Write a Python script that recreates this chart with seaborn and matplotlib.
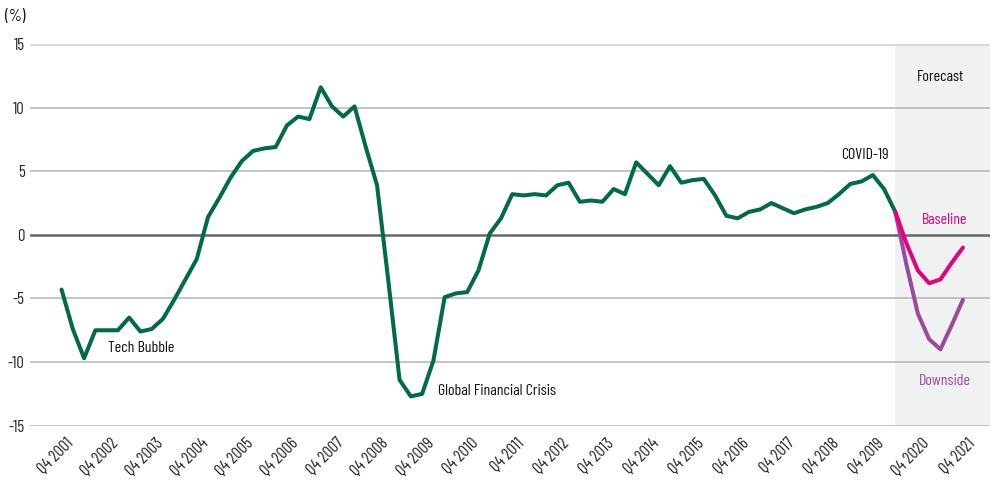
import numpy as np
import pandas as pd
import matplotlib
matplotlib.use("Agg")
import matplotlib.pyplot as plt
import matplotlib.transforms as mtrans
from matplotlib import font_manager
import seaborn as sns

# ---- data ----
history = [-4.3, -7.4, -9.7, -7.5, -7.5, -7.5, -6.5, -7.6, -7.4, -6.6,
           -5.1, -3.5, -1.9, 1.4, 2.9, 4.5, 5.8, 6.6, 6.8, 6.9,
           8.6, 9.3, 9.1, 11.6, 10.1, 9.3, 10.1, 6.9, 3.9, -3.6,
           -11.4, -12.7, -12.5, -9.9, -4.9, -4.6, -4.5, -2.8, 0.1, 1.3,
           3.2, 3.1, 3.2, 3.1, 3.9, 4.1, 2.6, 2.7, 2.6, 3.6,
           3.2, 5.7, 4.8, 3.9, 5.4, 4.1, 4.3, 4.4, 3.1, 1.5,
           1.3, 1.8, 2.0, 2.5, 2.1, 1.7, 2.0, 2.2, 2.5, 3.2,
           4.0, 4.2, 4.7, 3.6, 1.8]
baseline = [1.8, -0.7, -2.8, -3.8, -3.5, -2.2, -1.0]
downside = [1.8, -2.4, -6.2, -8.2, -9.0, -7.1, -5.1]
tick_labels = [f"Q4 {y}" for y in range(2001, 2022)]
annotations = [("Tech Bubble", 4.1, -8.9, "left", "#111111"),
               ("Global Financial Crisis", 33.4, -12.3, "left", "#111111"),
               ("COVID-19", 71.3, 6.3, "center", "#111111"),
               ("Forecast", 78.0, 12.4, "center", "#111111"),
               ("Baseline", 78.4, 1.2, "center", "#e6007e"),
               ("Downside", 78.4, -11.5, "center", "#9b4a9b")]

GREEN = "#006b4a"
PINK = "#e6007e"
PURPLE = "#9b4a9b"

n_hist = len(history)
fc_start = n_hist - 1
df = pd.concat([
    pd.DataFrame({"q": np.arange(n_hist), "v": history, "s": "History"}),
    pd.DataFrame({"q": np.arange(fc_start, fc_start + len(downside)), "v": downside, "s": "Downside"}),
    pd.DataFrame({"q": np.arange(fc_start, fc_start + len(baseline)), "v": baseline, "s": "Baseline"}),
], ignore_index=True)

sns.set_theme(style="white")
names = {f.name for f in font_manager.fontManager.ttflist}
fam = "DejaVu Sans"
for cand in ["Barlow Condensed", "Roboto Condensed", "Liberation Sans Narrow"]:
    if cand in names:
        fam = cand
        break
plt.rcParams["font.family"] = [fam, "DejaVu Sans"]

fig = plt.figure(figsize=(10, 4.84), dpi=100)
ax = fig.add_axes([0.03, 0.1205, 0.96, 0.7885])

xmax = fc_start + len(baseline) - 1
ax.set_xlim(-2.8, 82.4)
ax.set_ylim(-15, 15)
ax.axvspan(fc_start, 82.4, color="#f0f2f1", zorder=0, lw=0)

for yv in [-15, -10, -5, 5, 10]:
    ax.axhline(yv, color="#b4b4b4", lw=1.1, zorder=1)
ax.axhline(15, color="#d8d8d8", lw=2, zorder=1)
ax.axhline(0, color="#666666", lw=1.8, zorder=1)

sns.lineplot(data=df, x="q", y="v", hue="s",
             palette={"History": GREEN, "Baseline": PINK, "Downside": PURPLE},
             hue_order=["History", "Downside", "Baseline"],
             lw=2.9, legend=False, ax=ax, zorder=3, sort=False)

for s in ax.spines.values():
    s.set_visible(False)

ax.set_xticks(np.arange(0, xmax + 1, 4))
ax.set_xticklabels(tick_labels, rotation=45, ha="right", rotation_mode="anchor", fontsize=12)
ax.set_yticks([-15, -10, -5, 0, 5, 10, 15])
ax.set_yticklabels(["-15", "-10", "-5", "0", "5", "10", "15"], fontsize=12)
ax.tick_params(axis="x", length=0, pad=7)
ax.tick_params(axis="y", length=0, pad=4)
ax.set_xlabel("")
ax.set_ylabel("")
offset = mtrans.ScaledTranslation(4 / 100, 0, fig.dpi_scale_trans)
for lab in ax.get_xticklabels():
    lab.set_transform(lab.get_transform() + offset)

for txt, x, y, ha, c in annotations:
    ax.text(x, y, txt, ha=ha, va="center", fontsize=11.5, color=c, zorder=4)

fig.text(0.005, 0.966, "(%)", fontsize=12, ha="left", va="center", color="#111111")

fig.savefig("out.png", dpi=100)
